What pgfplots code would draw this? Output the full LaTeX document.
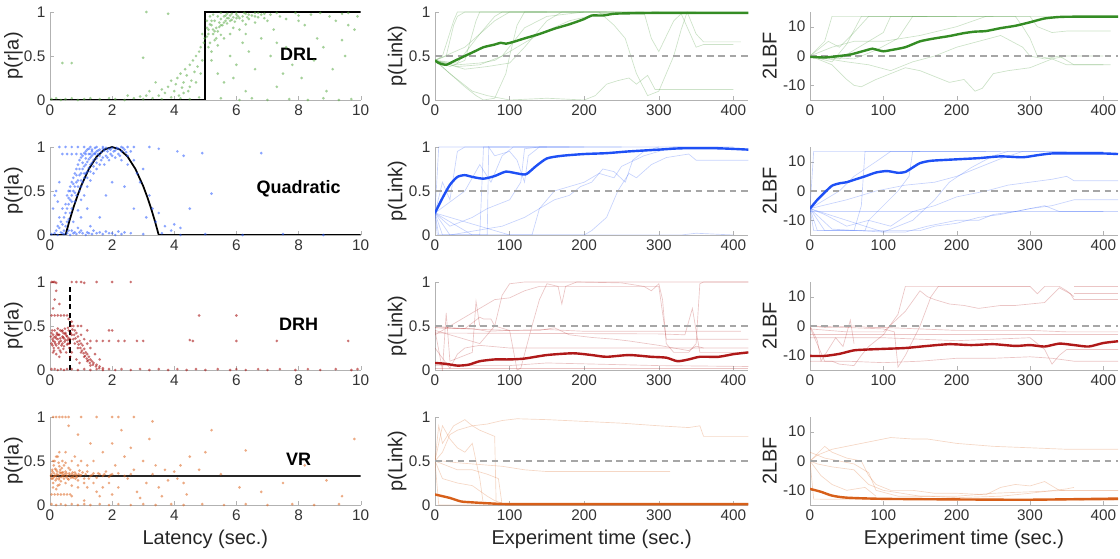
\documentclass[border=0pt]{standalone}
\usepackage{fontspec}
\setmainfont{Liberation Sans}
\usepackage{pgfplots}
\pgfplotsset{compat=1.18}
\definecolor{cgreen}{RGB}{52,140,36}
\definecolor{cblue}{RGB}{30,80,245}
\definecolor{cred}{RGB}{175,25,25}
\definecolor{corange}{RGB}{215,95,25}
\definecolor{ptgreen}{RGB}{90,170,70}
\definecolor{ptblue}{RGB}{40,90,255}
\definecolor{ptred}{RGB}{160,0,0}
\definecolor{ptorange}{RGB}{220,100,30}
\tikzset{tag/.style={font=\fontsize{13.5}{15}\selectfont\bfseries}}
\pgfplotsset{
  base/.style={scale only axis, height=66pt,
    axis lines*=left, axis line style={black!30, line width=0.6pt},
    tick style={black!30}, tick align=inside, major tick length=3pt,
    /pgf/number format/assume math mode=true,
    ticklabel style={font=\fontsize{11.5}{12}\selectfont, text=black!80},
    label style={font=\fontsize{15}{17}\selectfont, text=black!85}},
  colA/.style={base, width=233pt, xmin=0, xmax=10, ymin=0, ymax=1,
    xtick={0,2,...,10}, ytick={0,0.5,1}, ylabel={p(r|a)},
    ylabel style={yshift=-6pt}},
  colB/.style={base, width=235pt, xmin=0, xmax=420, ymin=0, ymax=1,
    xtick={0,100,...,400}, ytick={0,0.5,1}, ylabel={p(Link)},
    ylabel style={yshift=-5pt}},
  colC/.style={base, width=231pt, xmin=0, xmax=420, ymin=-15, ymax=15,
    xtick={0,100,...,400}, ytick={-10,0,10}, ylabel={2LBF},
    ylabel style={yshift=-2pt}},
  pts/.style={only marks, mark=*, mark size=1.1pt, color=#1,
    mark options={draw opacity=0, fill opacity=0.55}},
  traj/.style={#1, line width=0.5pt, opacity=0.25},
  mean/.style={#1, line width=1.8pt, smooth, tension=0.4},
  ref/.style={black!35, line width=0.9pt, dash pattern=on 5pt off 3.5pt},
}
\begin{document}
\begin{tikzpicture}
\useasboundingbox (0,0) rectangle (840pt,-419.25pt);

% ---------------- row 1: DRL ----------------
\begin{axis}[colA, at={(37.5pt,-75pt)}]
\addplot[pts=ptgreen] coordinates {
(0.05,0.01) (0.2,0.02) (0.35,0) (0.5,0.01) (0.7,0.02) (0.9,0) (1.1,0.01) (1.3,0.02) (1.6,0.01) (1.9,0.02)
(2.1,0.01) (2.4,0) (2.7,0.02) (3.0,0.01) (3.3,0.02) (3.6,0.01) (3.9,0.03) (4.2,0.02) (4.5,0.01) (4.8,0.03)
(3.5,0.05) (3.6,0.12) (3.7,0.08) (3.8,0.15) (3.9,0.22) (4.0,0.1) (4.05,0.18) (4.1,0.25) (4.15,0.05) (4.2,0.3)
(4.25,0.14) (4.3,0.2) (4.35,0.35) (4.4,0.28) (4.45,0.1) (4.5,0.4) (4.55,0.22) (4.6,0.45) (4.65,0.32) (4.7,0.5)
(4.75,0.38) (4.8,0.55) (4.85,0.6) (4.9,0.45) (4.95,0.65) (4.98,0.7) (4.9,0.75) (4.85,0.3) (4.7,0.2) (4.5,0.15)
(4.3,0.08) (3.2,0.1) (3.4,0.2) (3.1,0.05) (2.9,0.04) (2.5,0.05)
(5.05,0.72) (5.1,0.8) (5.15,0.65) (5.2,0.85) (5.25,0.75) (5.3,0.9) (5.35,0.82) (5.4,0.78) (5.45,0.88) (5.5,0.92)
(5.55,0.85) (5.6,0.95) (5.65,0.9) (5.7,0.87) (5.75,0.93) (5.8,0.96) (5.85,0.91) (5.9,0.94) (5.95,0.89) (6.0,0.97)
(6.1,0.93) (6.2,0.95) (6.3,0.98) (6.4,0.92) (6.5,0.96) (6.6,0.99) (6.7,0.94) (6.8,0.97) (5.1,0.6) (5.2,0.55)
(5.3,0.68) (5.4,0.62) (5.6,0.7) (5.8,0.75) (6.1,0.8) (5.05,0.9) (5.15,0.95) (5.25,0.97) (5.5,0.99) (5.7,0.98)
(6.0,0.99) (6.25,0.99) (5.35,0.7) (5.5,0.74) (5.9,0.82) (6.3,0.86) (6.6,0.88)
(5.1,0.75) (5.2,0.9) (5.3,0.78) (5.4,0.95) (5.5,0.85) (5.6,0.88) (5.7,0.93) (5.8,0.9) (6.0,0.93) (6.2,0.9)
(6.4,0.97) (6.6,0.95) (5.05,0.82) (5.15,0.86) (5.25,0.8) (5.45,0.83) (5.65,0.96) (5.85,0.98) (6.05,0.95) (6.35,0.94)
(6.7,0.99) (6.9,0.93) (7.1,0.97) (7.3,0.99)
(5.2,0.45) (5.4,0.3) (5.6,0.2) (5.8,0.5) (6.0,0.4) (6.2,0.65) (6.4,0.55) (6.6,0.35) (6.8,0.7) (7.0,0.9)
(7.2,0.8) (7.4,0.95) (7.6,0.6) (7.8,0.4) (8.0,0.9) (8.2,0.85) (8.4,0.97) (8.6,0.7) (8.8,0.6) (9.0,0.95)
(9.2,0.9) (9.4,0.98) (9.6,0.85) (9.8,0.8) (9.9,0.95) (7.1,0.5) (7.5,0.3) (8.1,0.25) (8.5,0.45) (9.1,0.35)
(9.5,0.5) (6.3,0.1) (7.3,0.15) (8.9,0.1) (5.9,0.25) (5.5,0.02) (6.1,0.0) (6.5,0.02) (7.0,0.0) (7.7,0.01)
(8.3,0.0) (8.8,0.02) (9.3,0.0) (9.7,0.01) (6.9,0.98) (7.9,0.99) (8.7,0.99) (9.6,0.99) (7.6,0.92) (8.0,0.96)
(6.3,0.75) (7.3,0.65) (9.4,0.68) (0.4,0.42) (0.7,0.42) (3.1,1.0) (3.0,0.48) (3.8,0.98)
};
\addplot[black, line width=1.3pt] coordinates {(0,0) (5,0) (5,1) (10,1)};
\node[tag] at (axis cs:8,0.52) {DRL};
\end{axis}

\begin{axis}[colB, at={(326.25pt,-75pt)}]
\addplot[traj=cgreen] coordinates {(0,0.45) (15,0.5) (25,0.85) (30,0.95) (40,1.0) (250,1.0)};
\addplot[traj=cgreen] coordinates {(0,0.45) (20,0.38) (40,0.45) (55,0.9) (60,1.0) (230,1.0)};
\addplot[traj=cgreen] coordinates {(0,0.45) (20,0.3) (40,0.15) (55,0.05) (65,0.0) (80,0.02) (95,0.3) (100,0.5) (110,0.85) (120,1.0) (300,1.0)};
\addplot[traj=cgreen] coordinates {(0,0.45) (30,0.4) (60,0.42) (80,0.45) (100,0.55) (140,0.75) (180,0.9) (220,0.98) (260,1) (350,1)};
\addplot[traj=cgreen] coordinates {(0,0.45) (30,0.38) (60,0.4) (90,0.5) (120,0.82) (150,0.95) (200,1) (280,1.0) (290,0.7) (300,0.55) (320,0.9) (330,0.98) (350,0.6) (360,0.63) (400,0.63)};
\addplot[traj=cgreen] coordinates {(0,0.45) (20,0.3) (50,0.1) (70,0.05) (100,0.0) (150,0.02) (200,0.0) (215,0.05) (230,0.18) (245,0.22) (260,0.25) (270,0.18) (285,0.28) (295,0.12) (320,0.12) (400,0.12)};
\addplot[traj=cgreen] coordinates {(0,0.45) (40,0.6) (80,0.9) (100,1) (220,1) (240,0.85) (255,0.7) (270,0.3) (285,0.05) (300,0.1) (320,0.5) (330,0.8) (338,1.0) (350,0.75) (360,0.66) (410,0.66)};
\addplot[traj=cgreen] coordinates {(0,0.45) (30,0.42) (60,0.75) (80,0.95) (90,1) (200,1)};
\addplot[traj=cgreen] coordinates {(0,0.45) (40,0.35) (70,0.38) (100,0.42) (120,0.6) (150,0.9) (170,1) (240,1)};
\addplot[traj=cgreen] coordinates {(0,0.45) (10,0.5) (25,0.9) (30,1.0) (150,1)};
\addplot[ref] coordinates {(0,0.5) (420,0.5)};
\addplot[mean=cgreen] coordinates {(0,0.45) (5,0.42) (15,0.40) (25,0.44) (40,0.50) (55,0.56) (65,0.60) (80,0.63) (88,0.65) (95,0.64) (105,0.66) (120,0.70) (140,0.75) (160,0.81) (180,0.86) (200,0.92) (210,0.96) (225,0.96) (240,0.98) (260,0.985) (300,0.99) (350,0.99) (420,0.99)};
\end{axis}

\begin{axis}[colC, at={(607.5pt,-75pt)}]
\addplot[traj=cgreen] coordinates {(0,0) (20,5) (30,13.5) (200,13.5)};
\addplot[traj=cgreen] coordinates {(0,0) (30,-2) (50,4) (70,13.5) (250,13.5)};
\addplot[traj=cgreen] coordinates {(0,0) (30,-3) (50,-8) (60,-10) (70,-10.5) (90,-8) (110,-6) (130,-4) (150,-5) (170,-7) (190,-9) (210,-8) (225,-12) (235,-11) (250,-6) (270,-5) (300,-4) (330,-1) (350,-3) (400,-3)};
\addplot[traj=cgreen] coordinates {(0,0) (40,-1) (60,2) (80,5) (100,8) (110,13.5) (300,13.5) (310,10) (330,8) (350,8.5) (410,8.5)};
\addplot[traj=cgreen] coordinates {(0,0) (50,-2) (80,-3) (110,-5) (140,-2) (170,0) (200,3) (230,5) (260,7) (290,3) (300,0) (320,-1) (340,0) (360,-3) (410,-3)};
\addplot[traj=cgreen] coordinates {(0,0) (30,3) (60,5) (100,5) (150,7) (200,10) (240,13.5) (330,13.5)};
\addplot[traj=cgreen] coordinates {(0,0) (60,-1) (90,2) (120,6) (140,13.5) (280,13.5) (290,10) (300,6) (310,0) (330,-1) (350,0) (400,0)};
\addplot[traj=cgreen] coordinates {(0,0) (25,5) (40,3) (60,8) (80,13.5) (160,13.5)};
\addplot[ref] coordinates {(0,0) (420,0)};
\addplot[mean=cgreen] coordinates {(0,-0.3) (20,-0.5) (40,0) (55,0.5) (70,1.5) (85,2.5) (90,2.2) (100,1.6) (110,2.0) (130,3.0) (150,5.0) (170,6.0) (190,6.8) (210,7.8) (225,8.3) (240,8.5) (260,9.5) (280,10.3) (300,11.5) (320,12.8) (340,13.3) (360,13.4) (420,13.4)};
\end{axis}

% ---------------- row 2: Quadratic ----------------
\begin{axis}[colA, at={(37.5pt,-176.25pt)}]
\addplot[pts=ptblue] coordinates {
(0.05,0.01) (0.15,0.02) (0.25,0.0) (0.35,0.03) (0.45,0.01) (0.55,0.02) (0.65,0.0) (0.75,0.02) (0.85,0.01) (0.95,0.03)
(1.05,0.02) (1.15,0.0) (1.25,0.02) (1.35,0.01) (1.5,0.02) (1.7,0.01) (1.9,0.02) (2.1,0.0) (2.3,0.01) (2.6,0.02)
(3.0,0.01) (3.6,0.02) (4.2,0.0) (5.0,0.01) (6.2,0.0) (7.5,0.01) (8.8,0.0)
(0.2,0.05) (0.25,0.1) (0.3,0.08) (0.35,0.15) (0.4,0.12) (0.45,0.2) (0.5,0.1) (0.5,0.25) (0.55,0.3) (0.6,0.18)
(0.6,0.35) (0.65,0.4) (0.65,0.25) (0.7,0.45) (0.7,0.3) (0.75,0.5) (0.75,0.15) (0.8,0.55) (0.8,0.38) (0.85,0.6)
(0.85,0.45) (0.9,0.62) (0.9,0.28) (0.95,0.68) (0.95,0.5) (1.0,0.7) (1.0,0.55) (1.0,0.4) (1.05,0.75) (1.05,0.6)
(1.1,0.78) (1.1,0.65) (1.1,0.45) (1.15,0.8) (1.15,0.7) (1.2,0.83) (1.2,0.72) (1.2,0.55) (1.25,0.86) (1.25,0.76)
(1.3,0.88) (1.3,0.8) (1.3,0.62) (1.35,0.9) (1.35,0.82) (1.4,0.92) (1.4,0.85) (1.4,0.7) (1.45,0.93) (1.5,0.95)
(1.5,0.87) (1.5,0.75) (1.55,0.96) (1.6,0.97) (1.6,0.9) (1.6,0.8) (1.65,0.94) (1.7,0.98) (1.7,0.88) (1.75,0.96)
(1.8,0.99) (1.8,0.9) (1.85,0.95) (1.9,0.98) (1.9,0.85) (1.95,0.97) (2.0,0.99) (2.0,0.9) (2.1,0.96) (2.1,0.88)
(2.2,0.98) (2.2,0.92) (2.3,0.95) (2.3,0.85) (2.4,0.97) (2.5,0.9) (2.5,0.8) (2.6,0.95) (2.7,0.85) (2.8,0.7)
(2.9,0.6) (3.0,0.75) (3.2,0.45) (3.3,0.3) (3.4,0.15) (3.5,0.25) (3.7,0.1) (3.9,0.05) (4.0,0.12) (4.2,0.08)
(4.3,0.9) (4.9,0.93) (5.2,0.47) (6.8,0.93) (4.5,0.3) (3.1,0.2) (2.7,0.3) (2.4,0.55) (2.0,0.6) (1.8,0.45)
(1.6,0.2) (1.3,0.1) (1.0,0.2) (0.7,0.05) (0.9,0.08) (1.2,0.3)
(0.3,1) (0.5,1) (0.7,1) (0.9,1) (1.1,1) (1.3,1) (1.5,1) (1.7,1) (2.3,1) (2.5,1) (2.7,1) (3.2,1) (3.5,0.98) (4.1,0.95)
(0.4,0.92) (0.55,0.92) (0.7,0.92) (0.85,0.92) (1.0,0.92) (1.15,0.92) (1.3,0.92) (1.45,0.92)
(0.15,0.45) (0.1,0.3) (0.2,0.5) (0.3,0.6) (0.25,0.38)
(0.3,0.2) (0.4,0.3) (0.45,0.05) (0.55,0.15) (0.6,0.5) (0.65,0.55) (0.7,0.6) (0.75,0.65) (0.8,0.7) (0.85,0.75)
(0.9,0.8) (0.95,0.85) (1.0,0.88) (1.05,0.9) (1.1,0.93) (1.15,0.95) (1.2,0.97) (1.25,0.98) (1.35,0.97) (1.45,0.99)
(1.55,0.92) (1.65,0.85) (1.75,0.8) (1.85,0.88) (1.95,0.92) (2.05,0.95) (2.15,0.99) (2.25,0.9) (2.35,0.99) (2.45,0.94)
(0.55,0.45) (0.65,0.5) (0.75,0.58) (0.85,0.68) (0.95,0.75) (1.05,0.82) (1.15,0.87) (1.25,0.92) (1.35,0.95) (0.5,0.35)
(0.6,0.42) (0.7,0.38) (0.8,0.48) (0.9,0.55) (1.0,0.62) (1.1,0.7) (1.2,0.65) (1.3,0.72) (1.4,0.78) (1.5,0.82)
(0.4,0.02) (0.6,0.05) (0.8,0.03) (1.0,0.05) (1.2,0.03) (1.4,0.05) (1.6,0.03) (1.8,0.04) (2.0,0.02) (2.2,0.04) (2.4,0.03)
};
\addplot[black, line width=1.3pt] coordinates {(0,0) (0.5,0) (0.625,0.16) (0.75,0.306) (0.875,0.4375) (1,0.556) (1.25,0.75) (1.5,0.889) (1.75,0.972) (2,1) (2.25,0.972) (2.5,0.889) (2.75,0.75) (3,0.556) (3.125,0.4375) (3.25,0.306) (3.375,0.16) (3.5,0) (10,0)};
\node[tag] at (axis cs:8,0.52) {Quadratic};
\end{axis}

\begin{axis}[colB, at={(326.25pt,-176.25pt)}]
\addplot[traj=cblue] coordinates {(0,0.25) (5,1) (150,1)};
\addplot[traj=cblue] coordinates {(0,0.25) (3,0) (60,0) (65,1) (200,1)};
\addplot[traj=cblue] coordinates {(0,0.25) (10,0) (70,0) (72,1) (80,0.9) (100,0.95) (110,0.85) (120,0.6) (125,0.9) (140,1) (300,1)};
\addplot[traj=cblue] coordinates {(0,0.25) (20,0.1) (50,0.2) (70,0.3) (100,0.4) (115,0.6) (120,0.98) (140,1) (250,1)};
\addplot[traj=cblue] coordinates {(0,0.25) (50,0.0) (130,0.0) (140,0.3) (160,0.5) (180,0.55) (200,0.6) (220,0.7) (240,0.65) (250,0.78) (260,0.82) (280,0.9) (300,0.95) (320,1) (400,1)};
\addplot[traj=cblue] coordinates {(0,0.25) (100,0.0) (200,0.0) (210,0.05) (230,0.2) (245,0.5) (260,0.7) (270,0.65) (290,0.8) (310,0.88) (340,0.92) (350,0.85) (420,0.85)};
\addplot[traj=cblue] coordinates {(0,0.25) (20,0.0) (90,0.1) (120,0.2) (140,0.3) (160,0.4) (180,0.45) (195,0.55) (210,0.6) (225,0.75) (240,0.72) (255,0.6) (265,0.85) (280,0.95) (300,1) (380,1)};
\addplot[traj=cblue] coordinates {(0,0.25) (40,0.5) (60,0.8) (75,0.6) (90,0.9) (105,1) (180,1)};
\addplot[traj=cblue] coordinates {(0,0.25) (5,0) (330,0) (350,0.02) (400,0.0)};
\addplot[traj=cblue] coordinates {(0,0.25) (10,0.6) (20,0.4) (30,0.95) (40,1) (100,1)};
\addplot[ref] coordinates {(0,0.5) (420,0.5)};
\addplot[mean=cblue] coordinates {(0,0.25) (10,0.42) (20,0.57) (30,0.66) (40,0.68) (50,0.66) (65,0.64) (80,0.67) (95,0.72) (110,0.70) (122,0.69) (135,0.78) (150,0.87) (170,0.90) (200,0.92) (230,0.93) (260,0.95) (300,0.97) (330,0.985) (380,0.985) (420,0.97)};
\end{axis}

\begin{axis}[colC, at={(607.5pt,-176.25pt)}]
\addplot[traj=cblue] coordinates {(0,-6) (5,13.5) (150,13.5)};
\addplot[traj=cblue] coordinates {(0,-6) (5,-13.5) (60,-13.5) (70,-5) (75,13.5) (240,13.5)};
\addplot[traj=cblue] coordinates {(0,-6) (10,-13.5) (75,-13.5) (80,-10) (100,-5) (120,0) (135,5) (140,13.5) (320,13.5)};
\addplot[traj=cblue] coordinates {(0,-6) (20,-8) (50,-12) (80,-10) (110,-12) (140,-7) (170,-5) (200,-2) (240,0) (270,2) (300,3) (330,4) (350,5) (360,3.5) (420,3.5)};
\addplot[traj=cblue] coordinates {(0,-6) (30,-13) (100,-14) (130,-14) (160,-12) (200,-10) (230,-10) (250,-8) (280,-7) (300,-6) (320,-5) (340,-7) (360,-7) (400,-7)};
\addplot[traj=cblue] coordinates {(0,-7) (420,-7)};
\addplot[traj=cblue] coordinates {(0,-6) (20,-13.5) (150,-13.5) (170,-12) (200,-11) (230,-9) (260,-8) (300,-6) (330,-5) (360,-3) (420,-3)};
\addplot[traj=cblue] coordinates {(0,-6) (40,0) (60,5) (90,10) (110,13.5) (260,13.5)};
\addplot[traj=cblue] coordinates {(0,-6) (50,-3) (90,0) (130,2) (170,3) (200,5) (230,8) (260,11) (290,13.5) (400,13.5)};
\addplot[traj=cblue] coordinates {(0,-6) (100,-14) (140,-10) (170,-3) (190,3) (220,8) (250,12) (270,13.5) (350,13.5)};
\addplot[ref] coordinates {(0,0) (420,0)};
\addplot[mean=cblue] coordinates {(0,-6) (10,-3) (20,-0.5) (30,1.8) (40,2.6) (50,3) (60,3.8) (75,5) (90,6.3) (105,6.8) (120,6.2) (130,6.5) (140,8) (150,9.5) (165,10.3) (200,10.8) (230,11.2) (260,11.8) (290,11.5) (310,12.2) (330,12.8) (360,12.8) (400,12.8) (420,12.6)};
\end{axis}

% ---------------- row 3: DRH ----------------
\begin{axis}[colA, at={(37.5pt,-277.5pt)}]
\addplot[pts=ptred] coordinates {
(0.05,0.3) (0.08,0.35) (0.1,0.4) (0.12,0.25) (0.15,0.32) (0.18,0.38) (0.2,0.28) (0.22,0.42) (0.25,0.35) (0.28,0.3)
(0.3,0.4) (0.32,0.22) (0.35,0.33) (0.38,0.44) (0.4,0.3) (0.42,0.37) (0.45,0.27) (0.48,0.41) (0.5,0.34) (0.52,0.2)
(0.55,0.38) (0.58,0.3) (0.6,0.45) (0.62,0.25) (0.65,0.35) (0.7,0.4) (0.1,0.2) (0.2,0.18) (0.3,0.15) (0.4,0.45)
(0.15,0.45) (0.05,0.42) (0.25,0.47) (0.35,0.2) (0.45,0.36) (0.55,0.29) (0.1,0.33) (0.2,0.36) (0.3,0.32) (0.4,0.38)
(0.5,0.42) (0.6,0.36)
(0.08,0.28) (0.13,0.37) (0.17,0.3) (0.23,0.4) (0.27,0.25) (0.33,0.36) (0.37,0.28) (0.43,0.42) (0.47,0.32) (0.53,0.39)
(0.57,0.34) (0.63,0.3) (0.67,0.42) (0.03,0.38) (0.07,0.45) (0.13,0.22) (0.27,0.4) (0.33,0.45) (0.43,0.24) (0.48,0.47)
(0.58,0.48) (0.68,0.5) (0.72,0.46) (0.78,0.4) (0.82,0.36) (0.88,0.32) (0.92,0.29) (0.98,0.25) (1.03,0.22) (1.08,0.19)
(1.13,0.16) (1.18,0.13) (1.23,0.11) (1.28,0.08) (1.38,0.06) (1.48,0.04) (1.58,0.02)
(0.6,0.58) (0.7,0.55) (0.75,0.5) (0.8,0.45) (0.85,0.42) (0.9,0.38) (0.95,0.33) (1.0,0.3) (1.05,0.28) (1.1,0.24)
(1.15,0.2) (1.2,0.18) (1.25,0.15) (1.3,0.12) (1.35,0.1) (1.4,0.08) (1.5,0.06) (1.6,0.04) (1.7,0.02) (0.8,0.3)
(0.9,0.25) (1.0,0.2) (1.1,0.15) (1.2,0.1) (1.3,0.05) (0.7,0.2) (0.85,0.12) (0.95,0.08) (1.0,0.4) (1.1,0.35)
(1.2,0.3) (1.3,0.25) (1.45,0.18) (1.6,0.12) (0.75,0.35) (0.65,0.15) (0.9,0.5)
(0.05,0.62) (0.15,0.62) (0.25,0.62) (0.35,0.62) (0.45,0.62) (0.55,0.62)
(0.05,1) (0.1,1) (0.15,1) (0.2,0.99) (0.7,1) (0.85,1) (1.0,1) (1.1,0.99) (1.5,1) (2.0,1) (2.6,1)
(1.3,0.33) (1.5,0.33) (1.7,0.33) (1.9,0.33) (2.2,0.33) (2.4,0.33) (2.8,0.33) (3.0,0.33) (4.6,0.33) (4.5,0.34)
(6.0,0.33) (7.3,0.33) (9.6,0.33) (1.9,0.45) (2.0,0.45) (1.2,0.45) (1.0,0.5) (4.8,0.62) (6.0,0.62) (0.15,0.8)
(0.1,0.7) (0.2,0.9) (0.3,0.75)
(0.05,0.01) (0.15,0.01) (0.25,0) (0.35,0.01) (0.45,0) (0.55,0.01) (0.7,0.01) (0.9,0) (1.1,0.01) (1.3,0)
(1.5,0.01) (1.7,0) (1.9,0.01) (2.1,0) (2.3,0.01) (2.6,0) (2.9,0.01) (3.2,0) (3.5,0.01) (3.8,0)
(4.1,0.01) (4.4,0) (4.7,0.01) (5.0,0) (5.4,0.01) (5.8,0) (6.0,0.01) (6.3,0) (6.7,0.01) (7.0,0)
(7.4,0.01) (7.9,0) (8.3,0.01) (8.7,0) (9.2,0.01) (9.7,0) (9.9,0.01)
};
\addplot[black, line width=1.1pt, dash pattern=on 4pt off 2.5pt] coordinates {(0.65,0) (0.65,0.95)};
\node[tag] at (axis cs:8,0.52) {DRH};
\end{axis}

\begin{axis}[colB, at={(326.25pt,-277.5pt)}]
\addplot[traj=cred] coordinates {(0,0.48) (50,0.47) (70,0.44) (100,0.45) (150,0.46) (200,0.44) (280,0.44) (350,0.44) (410,0.44)};
\addplot[traj=cred] coordinates {(0,0.5) (20,0.48) (40,0.47) (60,0.6) (65,0.58) (75,0.58) (80,0.5) (100,0.45) (140,0.45) (160,0.48) (180,0.40) (210,0.37) (240,0.35) (260,0.33) (300,0.28) (320,0.25) (340,0.22) (350,0.27) (360,0.25)};
\addplot[traj=cred] coordinates {(0,0.45) (60,0.3) (80,0.5) (90,0.85) (100,0.98) (120,1) (400,1) (420,1)};
\addplot[traj=cred] coordinates {(0,0.48) (100,0.45) (110,0.0) (115,0.02) (130,0.5) (140,0.8) (150,0.98) (165,0.95) (170,0.75) (175,0.95) (190,1) (250,0.99) (280,0.95) (290,0.9) (300,0.98) (305,0.8) (310,0.3) (320,0.2) (340,0.2) (350,0.3) (355,0.98) (360,1) (420,1)};
\addplot[traj=cred] coordinates {(0,0.4) (80,0.8) (100,0.82) (120,0.9) (140,0.95) (300,0.95) (310,0.35) (420,0.35)};
\addplot[traj=cred] coordinates {(0,0.25) (20,0.02) (30,0.18) (40,0.25) (60,0.28) (100,0.25) (200,0.25) (300,0.25) (420,0.25)};
\addplot[traj=cred] coordinates {(0,0.45) (10,0.0) (15,0.65) (20,0.1) (50,0.2) (55,0.78) (60,0.5)};
\addplot[traj=cred] coordinates {(0,0.42) (300,0.41) (335,0.4) (345,0.7) (355,0.2) (420,0.2)};
\addplot[traj=cred] coordinates {(0,0.02) (420,0.02)};
\addplot[traj=cred] coordinates {(0,0.05) (100,0.05) (150,0.08) (200,0.07) (300,0.05) (420,0.04)};
\addplot[ref] coordinates {(0,0.5) (420,0.5)};
\addplot[mean=cred] coordinates {(0,0.08) (15,0.07) (30,0.05) (45,0.06) (60,0.10) (80,0.12) (100,0.12) (120,0.13) (150,0.17) (185,0.19) (210,0.17) (230,0.15) (260,0.17) (290,0.15) (310,0.14) (325,0.10) (340,0.12) (355,0.15) (380,0.15) (400,0.18) (420,0.20)};
\end{axis}

\begin{axis}[colC, at={(607.5pt,-277.5pt)}]
\addplot[traj=cred] coordinates {(0,0) (20,-0.5) (40,-0.3) (60,0) (80,-0.5) (100,-0.5) (150,-1) (200,-1.5) (300,-1.5) (350,-2) (420,-2)};
\addplot[traj=cred] coordinates {(0,-0.5) (20,-12) (30,-12) (40,-13) (60,-13.5) (70,-10) (80,-7) (100,-3) (120,4) (130,13.5) (230,13.5) (300,13.5) (310,11) (320,13.5) (340,13.5) (350,12) (360,10)};
\addplot[traj=cred] coordinates {(0,0) (100,-1) (115,-2) (120,-14) (130,-10) (150,0) (165,10) (175,13.5) (300,13.5)};
\addplot[traj=cred] coordinates {(0,-1) (50,-2) (100,-2) (130,5) (150,12) (160,10) (170,9) (190,7.5) (210,7) (230,6) (260,7) (280,7) (300,7.5) (320,8) (340,13) (355,11) (360,9)};
\addplot[traj=cred] coordinates {(0,-12) (50,-12) (100,-12.5) (150,-12) (200,-11) (250,-11) (300,-10.5) (330,-11) (360,-12) (420,-12)};
\addplot[traj=cred] coordinates {(0,-4) (100,-4) (200,-5) (300,-4) (320,-8) (330,-13) (340,-10) (350,-8) (420,-8)};
\addplot[traj=cred] coordinates {(0,0) (10,-5) (15,-12) (25,-8) (35,-4) (45,-7) (55,2) (60,-6)};
\addplot[traj=cred] coordinates {(0,-3) (420,-3)};
\addplot[traj=cred] coordinates {(360,13.5) (420,13.5)};
\addplot[traj=cred] coordinates {(360,11) (420,11)};
\addplot[traj=cred] coordinates {(360,9) (420,9)};
\addplot[ref] coordinates {(0,0) (420,0)};
\addplot[mean=cred] coordinates {(0,-10.2) (20,-10.2) (40,-9.5) (60,-8.3) (80,-8) (100,-7.8) (130,-7.5) (160,-6.8) (190,-6.2) (220,-6.5) (250,-6.2) (280,-6.8) (300,-6.5) (320,-7) (340,-6) (360,-6.5) (380,-7) (400,-5.8) (420,-5.2)};
\end{axis}

% ---------------- row 4: VR ----------------
\begin{axis}[colA, at={(37.5pt,-378.75pt)}, xlabel={Latency (sec.)}]
\addplot[pts=ptorange] coordinates {
(0.05,0.3) (0.08,0.38) (0.1,0.25) (0.12,0.45) (0.15,0.33) (0.18,0.28) (0.2,0.4) (0.22,0.35) (0.25,0.22) (0.28,0.48)
(0.3,0.31) (0.32,0.37) (0.35,0.27) (0.38,0.42) (0.4,0.34) (0.45,0.3) (0.5,0.38) (0.55,0.33) (0.6,0.29) (0.65,0.4)
(0.7,0.35) (0.75,0.31) (0.8,0.37) (0.85,0.33) (0.9,0.28) (0.95,0.39) (1.0,0.34) (1.1,0.3) (1.2,0.38) (1.3,0.33)
(1.4,0.36) (1.5,0.31) (1.6,0.35) (1.7,0.33) (1.8,0.38) (1.9,0.32) (2.0,0.35) (0.15,0.5) (0.25,0.55) (0.1,0.2)
(0.2,0.18) (0.3,0.44) (0.45,0.45) (0.6,0.42) (0.35,0.36) (0.05,0.35) (0.12,0.32) (0.22,0.3) (0.42,0.37) (0.52,0.32)
(0.62,0.36) (0.72,0.32) (0.82,0.3) (0.92,0.35) (1.05,0.37) (1.25,0.3)
(0.03,0.33) (0.07,0.4) (0.09,0.3) (0.13,0.36) (0.17,0.41) (0.19,0.33) (0.23,0.38) (0.27,0.34) (0.29,0.29) (0.33,0.4)
(0.37,0.32) (0.39,0.37) (0.43,0.33) (0.47,0.35) (0.53,0.36) (0.57,0.3) (0.63,0.34) (0.67,0.31) (0.73,0.37) (0.77,0.34)
(0.83,0.35) (0.87,0.32) (0.97,0.33) (1.15,0.35) (1.35,0.34) (1.55,0.36) (1.75,0.35) (1.95,0.34) (2.2,0.36) (2.4,0.33)
(2.6,0.35) (0.1,0.5) (0.2,0.55) (0.3,0.6) (0.4,0.5) (0.5,0.48) (0.7,0.5) (0.9,0.45) (1.2,0.45) (0.3,0.23)
(0.5,0.25) (0.7,0.22) (0.9,0.2) (1.1,0.25) (1.4,0.25) (1.7,0.2)
(0.5,0.6) (0.8,0.55) (1.0,0.5) (1.2,0.2) (1.4,0.5) (1.5,0.15) (1.7,0.6) (1.9,0.25) (2.1,0.45) (2.2,0.2)
(2.4,0.55) (2.5,0.3) (2.7,0.4) (2.8,0.15) (3.0,0.5) (3.1,0.25) (3.3,0.35) (3.4,0.45) (3.5,0.2) (3.7,0.4)
(3.8,0.28) (4.0,0.38) (4.1,0.3) (4.2,0.45) (4.3,0.25) (4.5,0.55) (4.8,0.4) (5.0,0.6) (5.2,0.85) (5.5,0.35)
(6.1,0.2) (6.3,0.62) (6.8,0.15) (7.5,0.25) (8.2,0.45) (8.9,0.28) (9.8,0.75) (9.4,0.1) (2.0,0.7) (2.6,0.65)
(3.2,0.75) (0.9,0.8) (1.3,0.7) (2.3,0.85) (0.6,0.9) (0.7,0.1) (1.1,0.05) (1.6,0.1) (2.0,0.12) (2.9,0.08)
(3.6,0.1) (4.4,0.12)
(0.1,1) (0.2,1) (0.3,1) (0.4,1) (0.5,1) (0.6,1) (1.0,1) (1.5,1) (2.0,1) (2.2,1) (2.7,1) (3.3,0.95)
(0.05,0.12) (0.15,0.12) (0.25,0.12) (0.35,0.12) (0.45,0.12) (0.55,0.12) (0.65,0.12)
(0.05,0.01) (0.2,0) (0.35,0.01) (0.5,0) (0.7,0.01) (0.9,0) (1.1,0.01) (1.3,0) (1.6,0.01) (1.9,0)
(2.2,0.01) (2.6,0) (3.0,0.01) (3.4,0) (3.9,0.01) (4.3,0) (4.9,0.01) (5.6,0) (6.3,0.01) (7.0,0)
(7.8,0.01) (8.5,0) (9.3,0.01)
};
\addplot[black!85, line width=1.5pt] coordinates {(0,0.33) (10,0.33)};
\node[tag] at (axis cs:8,0.52) {VR};
\end{axis}

\begin{axis}[colB, at={(326.25pt,-378.75pt)}, xlabel={Experiment time (sec.)}]
\addplot[traj=corange] coordinates {(0,0.5) (10,0.6) (20,0.8) (30,0.85) (50,0.9) (70,0.92) (90,0.96) (110,0.98) (150,0.97) (200,0.95) (250,0.93) (300,0.9) (340,0.88) (355,0.9) (360,0.78) (420,0.78)};
\addplot[traj=corange] coordinates {(0,0.5) (10,0.5) (30,0.48) (60,0.46) (90,0.44) (120,0.4) (150,0.38) (200,0.38) (250,0.38) (300,0.38) (315,0.38)};
\addplot[traj=corange] coordinates {(0,0.5) (5,0.9) (10,0.7) (25,0.9) (40,0.97) (50,0.9) (60,0.85) (80,0.78) (82,0.0)};
\addplot[traj=corange] coordinates {(0,0.5) (10,0.9) (20,0.75) (30,0.65) (40,0.6) (50,0.7) (60,0.3) (65,0.0)};
\addplot[traj=corange] coordinates {(0,0.5) (15,0.45) (30,0.4) (50,0.4) (70,0.35) (85,0.3) (90,0.0)};
\addplot[traj=corange] coordinates {(0,0.5) (5,0.0) (420,0.0)};
\addplot[traj=corange] coordinates {(0,0.5) (10,0.3) (30,0.25) (50,0.22) (70,0.1) (80,0.05) (90,0.02)};
\addplot[ref] coordinates {(0,0.5) (420,0.5)};
\addplot[mean=corange] coordinates {(0,0.12) (10,0.10) (20,0.08) (35,0.04) (50,0.03) (70,0.02) (100,0.01) (200,0.01) (420,0.01)};
\end{axis}

\begin{axis}[colC, at={(607.5pt,-378.75pt)}, xlabel={Experiment time (sec.)}]
\addplot[traj=corange] coordinates {(0,0) (10,2) (30,4) (50,5) (70,6) (90,7) (110,8) (140,7.5) (160,7.5) (200,6) (250,5) (300,4.5) (350,4) (420,4)};
\addplot[traj=corange] coordinates {(0,0) (20,5) (30,3) (50,1) (70,0) (80,-5) (90,-8) (110,-10) (140,-10) (170,-11) (200,-11) (240,-11.5) (260,-9) (280,-8) (300,-8.5) (320,-7) (340,-10) (360,-10) (420,-10)};
\addplot[traj=corange] coordinates {(0,0) (10,-1) (30,-2) (60,-3) (80,-8) (100,-10) (150,-12) (200,-12) (250,-11) (300,-10.5) (350,-10) (420,-10)};
\addplot[traj=corange] coordinates {(0,0) (5,-13) (420,-13.5)};
\addplot[traj=corange] coordinates {(0,3) (20,1) (40,0) (60,-1) (80,-4) (90,-10) (120,-12) (160,-12) (200,-12.5) (260,-12) (300,-11) (350,-9.5) (360,-9)};
\addplot[traj=corange] coordinates {(0,0) (15,-5) (30,-8) (50,-10) (75,-9) (90,-12)};
\addplot[ref] coordinates {(0,0) (420,0)};
\addplot[mean=corange] coordinates {(0,-9.5) (15,-10.5) (30,-11.8) (50,-12.5) (100,-12.9) (200,-13.1) (300,-13.2) (420,-12.8)};
\end{axis}
\end{tikzpicture}
\end{document}
